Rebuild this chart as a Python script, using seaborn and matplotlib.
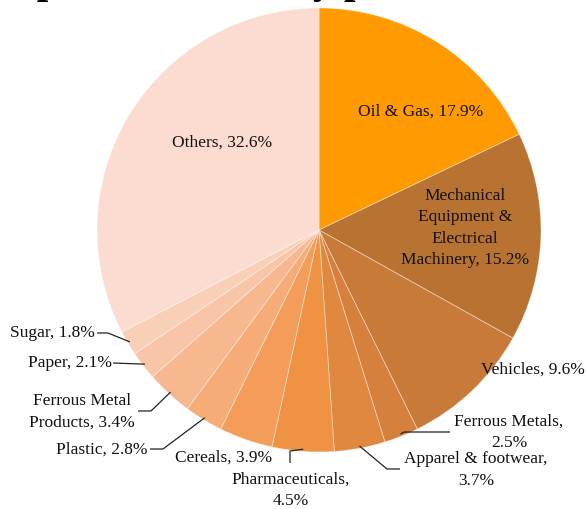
import matplotlib
matplotlib.use("Agg")
import matplotlib.pyplot as plt
import seaborn as sns
import numpy as np

# ---------------- data ----------------
categories = ["Oil & Gas", "Mechanical Equipment & Electrical Machinery", "Vehicles",
              "Ferrous Metals", "Apparel & footwear", "Pharmaceuticals", "Cereals",
              "Plastic", "Ferrous Metal Products", "Paper", "Sugar", "Others"]
shares = [17.9, 15.2, 9.6, 2.5, 3.7, 4.5, 3.9, 2.8, 3.4, 2.1, 1.8, 32.6]
display_labels = ["Oil & Gas, 17.9%", "Mechanical\nEquipment &\nElectrical\nMachinery, 15.2%",
                  "Vehicles, 9.6%", "Ferrous Metals,\n2.5%", "Apparel & footwear,\n3.7%",
                  "Pharmaceuticals,\n4.5%", "Cereals, 3.9%", "Plastic, 2.8%",
                  "Ferrous Metal\nProducts, 3.4%", "Paper, 2.1%", "Sugar, 1.8%", "Others, 32.6%"]
colors = ["#FF9A00", "#B87333", "#C87A38", "#D5803C", "#E0883F", "#F09244",
          "#F49D5A", "#F6AC76", "#F7B890", "#F9C5A8", "#FACFB8", "#FCDCD0"]
title_text = "Exports of India by product, Q1"

# ---------------- layout (pixels) ----------------
W, H = 586, 509
CX, CY, R = 319, 230, 222

def px(x, y):
    return ((x - CX) / R, (CY - y) / R)

# text centre positions in pixels
text_pos = {
    "Oil & Gas": (421, 112),
    "Mechanical Equipment & Electrical Machinery": (465, 228),
    "Vehicles": (533, 370),
    "Ferrous Metals": (509, 432),
    "Apparel & footwear": (476, 470),
    "Pharmaceuticals": (291, 490),
    "Cereals": (224, 458),
    "Plastic": (102, 450),
    "Ferrous Metal Products": (82, 412),
    "Paper": (70, 363),
    "Sugar": (52, 333),
    "Others": (222, 143),
}
# leader line vertices after the wedge edge point (pixels)
leaders = {
    "Ferrous Metals": [(404, 432), (450, 432)],
    "Apparel & footwear": [(387, 469), (400, 469)],
    "Pharmaceuticals": [(290, 451), (290, 463)],
    "Plastic": [(163, 449), (150, 449)],
    "Ferrous Metal Products": [(151, 411), (138, 411)],
    "Paper": [(113, 363)],
    "Sugar": [(108, 333), (97, 333)],
}

sns.set_theme(style="white")
plt.rcParams["font.family"] = ["Liberation Serif", "DejaVu Serif"]

fig = plt.figure(figsize=(W / 100, H / 100), dpi=100)
ax = fig.add_axes([0, 0, 1, 1])

wedges, _ = ax.pie(shares, colors=colors, startangle=90, counterclock=False, radius=1.0,
                   center=(0, 0), frame=True,
                   wedgeprops=dict(edgecolor=(1, 1, 1, 0.45), linewidth=0.6))
ax.set_xlim(-CX / R, (W - CX) / R)
ax.set_ylim(-(H - CY) / R, CY / R)
ax.set_aspect("equal")
ax.axis("off")

fs = 12.5
for w, cat, lab in zip(wedges, categories, display_labels):
    tx, ty = px(*text_pos[cat])
    ax.text(tx, ty, lab, ha="center", va="center", fontsize=fs, color="#111111",
            linespacing=1.45, multialignment="center")
    if cat in leaders:
        mid = np.deg2rad((w.theta1 + w.theta2) / 2)
        xs = [0.99 * np.cos(mid)]
        ys = [0.99 * np.sin(mid)]
        for p in leaders[cat]:
            qx, qy = px(*p)
            xs.append(qx)
            ys.append(qy)
        ax.plot(xs, ys, color="#222222", lw=0.9, solid_capstyle="butt")

fig.text(-12 / W, 1 + 6.5 / H, title_text, ha="left", va="baseline", fontsize=30,
         fontweight="bold", color="black", family=["Liberation Serif", "DejaVu Serif"])

fig.savefig("out.png", dpi=100)
